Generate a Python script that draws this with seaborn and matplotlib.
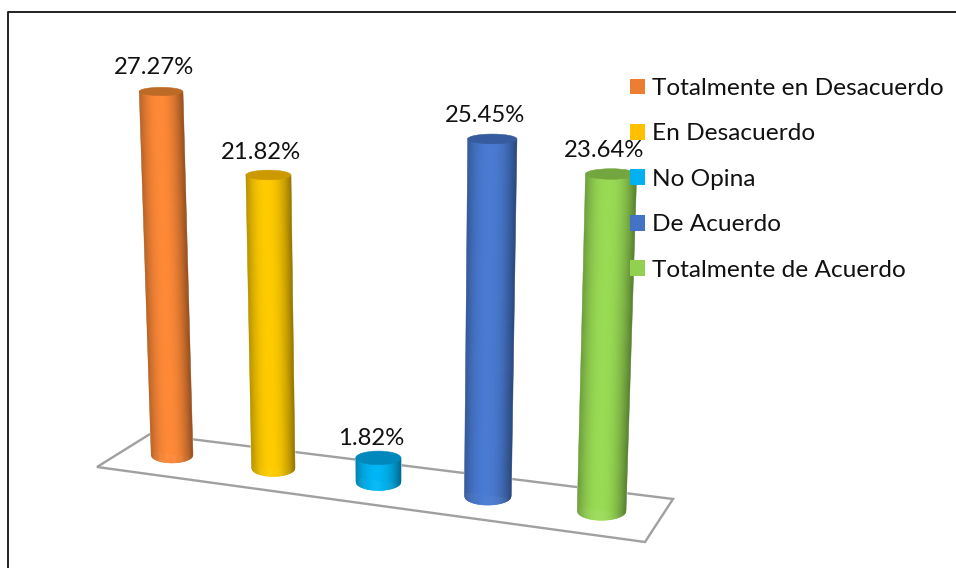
import numpy as np
import pandas as pd
import matplotlib
matplotlib.use("Agg")
import matplotlib.pyplot as plt
import matplotlib.transforms as mtransforms
from matplotlib.collections import PolyCollection
from matplotlib.lines import Line2D
from matplotlib.patches import Patch, Polygon, Ellipse
import seaborn as sns

categories = ["Totalmente en Desacuerdo", "En Desacuerdo", "No Opina", "De Acuerdo", "Totalmente de Acuerdo"]
values = [27.27, 21.82, 1.82, 25.45, 23.64]
colors = ["#ED7D31", "#FFC000", "#00B0F0", "#4472C4", "#92D050"]
body_light = ["#FF8A38", "#FFCC00", "#00B6F6", "#4A7CD4", "#9ADC55"]
top_colors = ["#BE6A27", "#CC9A00", "#0088BC", "#365B9E", "#74A640"]

W, H = 956, 568
sns.set_theme(style="white")
plt.rcParams["font.family"] = ["Lato", "DejaVu Sans"]

fig, ax = plt.subplots(figsize=(W / 100, H / 100), dpi=100)
ax.set_position([0, 0, 1, 1])
df = pd.DataFrame({"cat": categories, "val": values})
sns.barplot(data=df, x="cat", y="val", hue="cat", palette=colors, hue_order=categories,
            order=categories, width=0.42, legend=False, dodge=False, ax=ax, saturation=1)
bars = [p for p in ax.patches if p.get_height() > 0]

# camera: homography from (category, value) to image pixels
src = [(0, 0), (4, 0), (0, 27.27), (4, 23.64)]
dst = [(172, 455), (601.5, 511), (161, 91.5), (611, 174)]
A = []
for (u, v), (x, y) in zip(src, dst):
    A.append([u, v, 1, 0, 0, 0, -x * u, -x * v, -x])
    A.append([0, 0, 0, u, v, 1, -y * u, -y * v, -y])
M = np.linalg.svd(np.array(A, float))[2][-1].reshape(3, 3)


class Camera(mtransforms.Transform):
    input_dims = output_dims = 2
    is_separable = False
    has_inverse = False

    def transform_non_affine(self, xy):
        xy = np.asarray(xy, float)
        p = np.c_[xy, np.ones(len(xy))] @ M.T
        return p[:, :2] / p[:, 2:]


cam = Camera()
ax.set_xlim(0, W)
ax.set_ylim(H, 0)
ax.axis("off")

# floor
floor = [(97, 467), (150, 434), (673, 499), (645, 542)]
ax.add_patch(Polygon(floor, closed=True, fill=False, ec="#A0A0A0", lw=1.7, zorder=1))

N = 48
for i, bar in enumerate(bars):
    bar.set_transform(cam + ax.transData)
    bar.set_zorder(2)
    x0, w, h = bar.get_x(), bar.get_width(), bar.get_height()
    edges = np.linspace(0, 1, N + 1)
    us = x0 + w * edges
    b0 = cam.transform_non_affine(np.c_[us, np.zeros(N + 1)])
    t0 = cam.transform_non_affine(np.c_[us, np.full(N + 1, h)])
    bc = cam.transform_non_affine(np.array([[x0 + w / 2, 0.0]]))[0]
    tc = cam.transform_non_affine(np.array([[x0 + w / 2, h]]))[0]
    full_w = b0[-1, 0] - b0[0, 0]
    rb = 0.19 * full_w
    s = 2 * edges - 1
    drop = rb * np.sqrt(np.clip(1 - s ** 2, 0, 1))
    polys = []
    cols = []
    light = np.array(matplotlib.colors.to_rgb(body_light[i]))
    for k in range(N):
        quad = [
            (t0[k, 0], tc[1]), (t0[k + 1, 0], tc[1]),
            (b0[k + 1, 0], bc[1] + drop[k + 1]), (b0[k, 0], bc[1] + drop[k]),
        ]
        polys.append(quad)
        m = 0.5 * (s[k] + s[k + 1])
        f = 1 - 0.36 * abs(m + 0.08) ** 2.2
        cols.append(np.clip(light * f, 0, 1))
    ax.add_collection(PolyCollection(polys, facecolors=cols, edgecolors=cols, linewidths=0.4, zorder=3 + i))
    tw = t0[-1, 0] - t0[0, 0]
    ratio = 0.155 - 0.0022 * h
    ax.add_patch(Ellipse(tc, tw, 2 * ratio * tw, fc=top_colors[i], ec=top_colors[i], lw=0.4, zorder=3 + i))
    ax.annotate(f"{values[i]:.2f}%", xy=tc, xytext=(-7, 19.5 + 0.15 * h), textcoords="offset pixels",
                ha="center", va="center", fontsize=17.2, color="#111111", zorder=20)

# outer chart frame
ax.add_line(Line2D([8.5, 8.5, 956], [H, 12, 12], color="#222222", lw=1.4, zorder=30, clip_on=False))

handles = [Patch(fc=c, ec="none") for c in colors]
leg = ax.legend(handles, categories, loc="upper left", bbox_to_anchor=(630 / W, 1 - 78 / H),
                bbox_transform=fig.transFigure, frameon=False, fontsize=17.6, handlelength=0.61,
                handleheight=0.61, handletextpad=0.29, labelspacing=1.0, borderpad=0, borderaxespad=0)
leg.set_zorder(25)
for t in leg.get_texts():
    t.set_color("#111111")

fig.savefig("out.png", dpi=100)
